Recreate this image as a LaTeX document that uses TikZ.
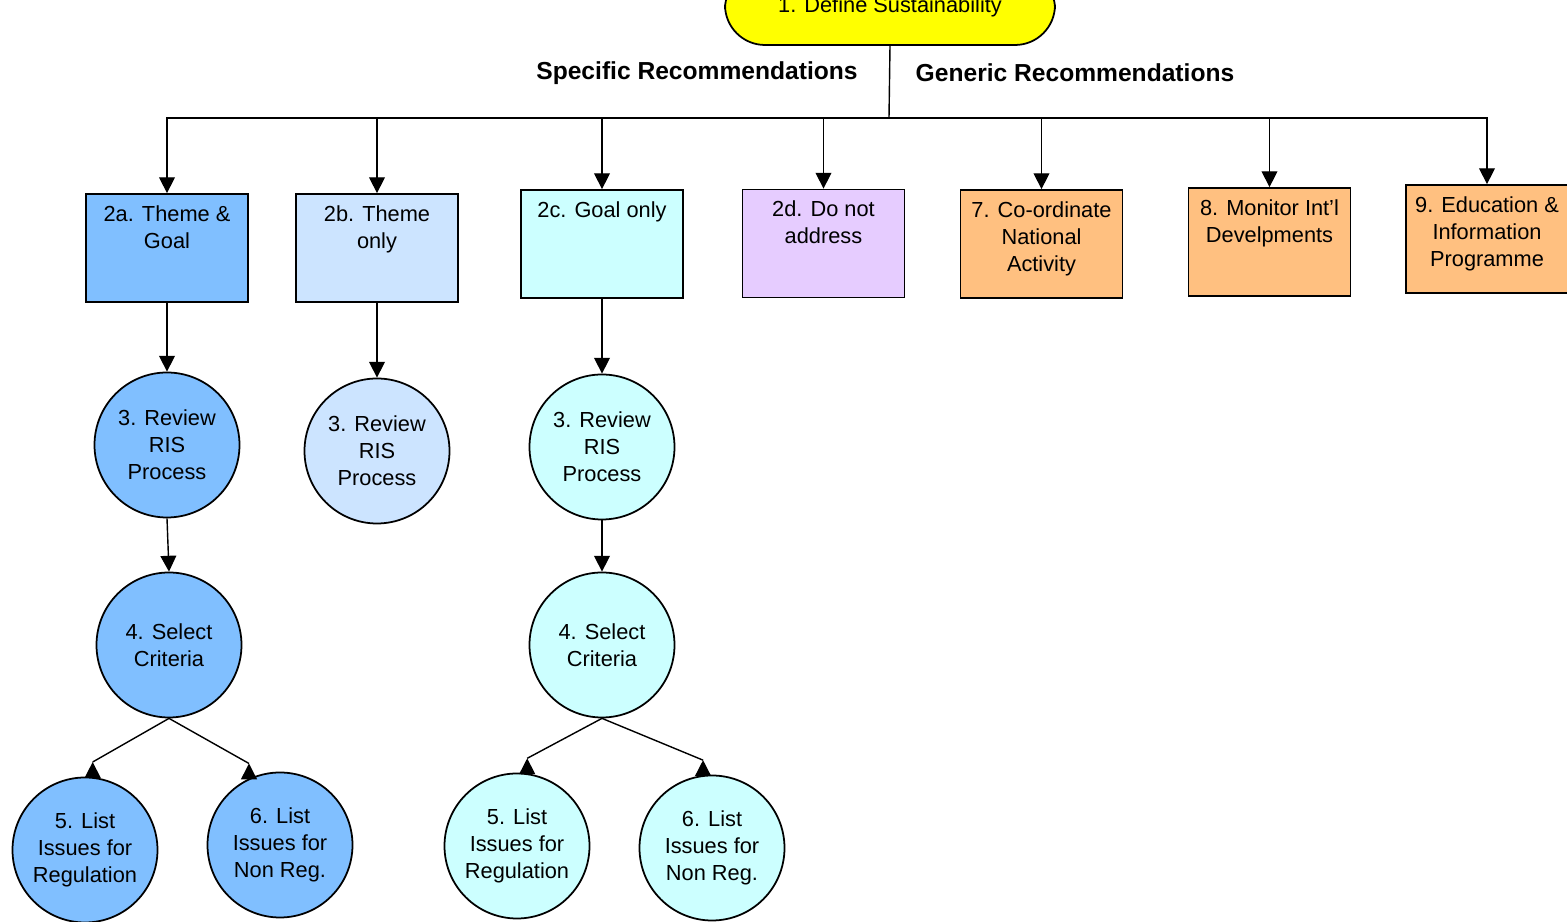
\documentclass[tikz,border=0pt]{standalone}
\usepackage{fontspec}
\setmainfont{Liberation Sans}
\usetikzlibrary{arrows.meta}

\definecolor{defyellow}{HTML}{FFFF00}
\definecolor{themegoal}{HTML}{80BFFF}
\definecolor{themeonly}{HTML}{CCE4FF}
\definecolor{goalonly}{HTML}{CCFFFF}
\definecolor{notaddr}{HTML}{E6CCFF}
\definecolor{generic}{HTML}{FFC080}

\newcommand{\lblfont}{\fontsize{6.2}{7.7}\selectfont}
\newcommand{\headfont}{\fontsize{7}{8}\selectfont\bfseries}
\newcommand{\boxtxt}[1]{\parbox[c][1.08cm][t]{1.62cm}{\centering\vspace*{2.4pt}\strut#1}}

\tikzset{
  arr/.style={-{Triangle[width=4.5pt,length=4.5pt]}, line width=0.4pt},
  recbox/.style={draw, line width=0.5pt, inner sep=0pt, font=\lblfont},
  stage/.style={draw, circle, line width=0.5pt, minimum size=1.45cm, inner sep=0pt, align=center, font=\lblfont},
}

\begin{document}
\begin{tikzpicture}

\clip (0,0) rectangle (15.67,-9.22);

% Top node
\node[draw, fill=defyellow, line width=0.5pt, rounded corners=0.4cm, minimum width=3.3cm, minimum height=0.76cm, font=\lblfont] (define) at (8.90,-0.07) {1. Define Sustainability};
\coordinate (bus) at (8.89,-1.18);

% Headings
\node[font=\headfont] (spec) at (6.97,-0.73) {Specific Recommendations};
\node[font=\headfont] (gen) at (10.75,-0.73) {Generic Recommendations};

% Boxes
\node[recbox, fill=themegoal] (b2a) at (1.67,-2.48) {\boxtxt{2a. Theme \&\\Goal}};
\node[recbox, fill=themeonly] (b2b) at (3.77,-2.48) {\boxtxt{2b. Theme\\only}};
\node[recbox, fill=goalonly] (b2c) at (6.02,-2.44) {\boxtxt{2c. Goal only}};
\node[recbox, fill=notaddr] (b2d) at (8.235,-2.435) {\boxtxt{2d. Do not\\address}};
\node[recbox, fill=generic] (b7) at (10.415,-2.44) {\boxtxt{7. Co-ordinate\\National\\Activity}};
\node[recbox, fill=generic] (b8) at (12.695,-2.42) {\boxtxt{8. Monitor Int'l\\Develpments}};
\node[recbox, fill=generic] (b9) at (14.87,-2.39) {\boxtxt{9. Education \&\\Information\\Programme}};

% Circles
\node[stage, fill=themegoal] (c3a) at (1.67,-4.45) {3. Review\\RIS\\Process};
\node[stage, fill=themegoal] (c4a) at (1.69,-6.45) {4. Select\\Criteria};
\node[stage, fill=themegoal] (c5a) at (0.85,-8.50) {5. List\\Issues for\\Regulation};
\node[stage, fill=themegoal] (c6a) at (2.80,-8.45) {6. List\\Issues for\\Non Reg.};

\node[stage, fill=themeonly] (c3b) at (3.77,-4.51) {3. Review\\RIS\\Process};

\node[stage, fill=goalonly] (c3c) at (6.02,-4.47) {3. Review\\RIS\\Process};
\node[stage, fill=goalonly] (c4c) at (6.02,-6.45) {4. Select\\Criteria};
\node[stage, fill=goalonly] (c5c) at (5.17,-8.46) {5. List\\Issues for\\Regulation};
\node[stage, fill=goalonly] (c6c) at (7.12,-8.48) {6. List\\Issues for\\Non Reg.};

% Tree from the top node
\draw[line width=0.4pt] (define.south) -- (bus);
\foreach \n in {b2a,b2b,b2c,b2d,b7,b8,b9}
  \draw[arr] (bus) -| (\n);

% Downward links
\draw[arr] (b2a) -- (c3a);
\draw[arr] (c3a.south) -- (c4a.north);
\draw[arr] (b2b) -- (c3b);
\draw[arr] (b2c) -- (c3c);
\draw[arr] (c3c) -- (c4c);

% Split links (heads stand upright on the circles)
\draw[arr] (c5a.84) -- ++(0,0.15) coordinate (t5a);
\draw[arr] (c6a.115) -- ++(0,0.15) coordinate (t6a);
\draw[arr] (c5c.82) -- ++(0,0.15) coordinate (t5c);
\draw[arr] (c6c.97) -- ++(0,0.15) coordinate (t6c);
\draw[line width=0.4pt] (c4a.south) -- (t5a);
\draw[line width=0.4pt] (c4a.south) -- (t6a);
\draw[line width=0.4pt] (c4c.south) -- (t5c);
\draw[line width=0.4pt] (c4c.south) -- (t6c);

\end{tikzpicture}
\end{document}
